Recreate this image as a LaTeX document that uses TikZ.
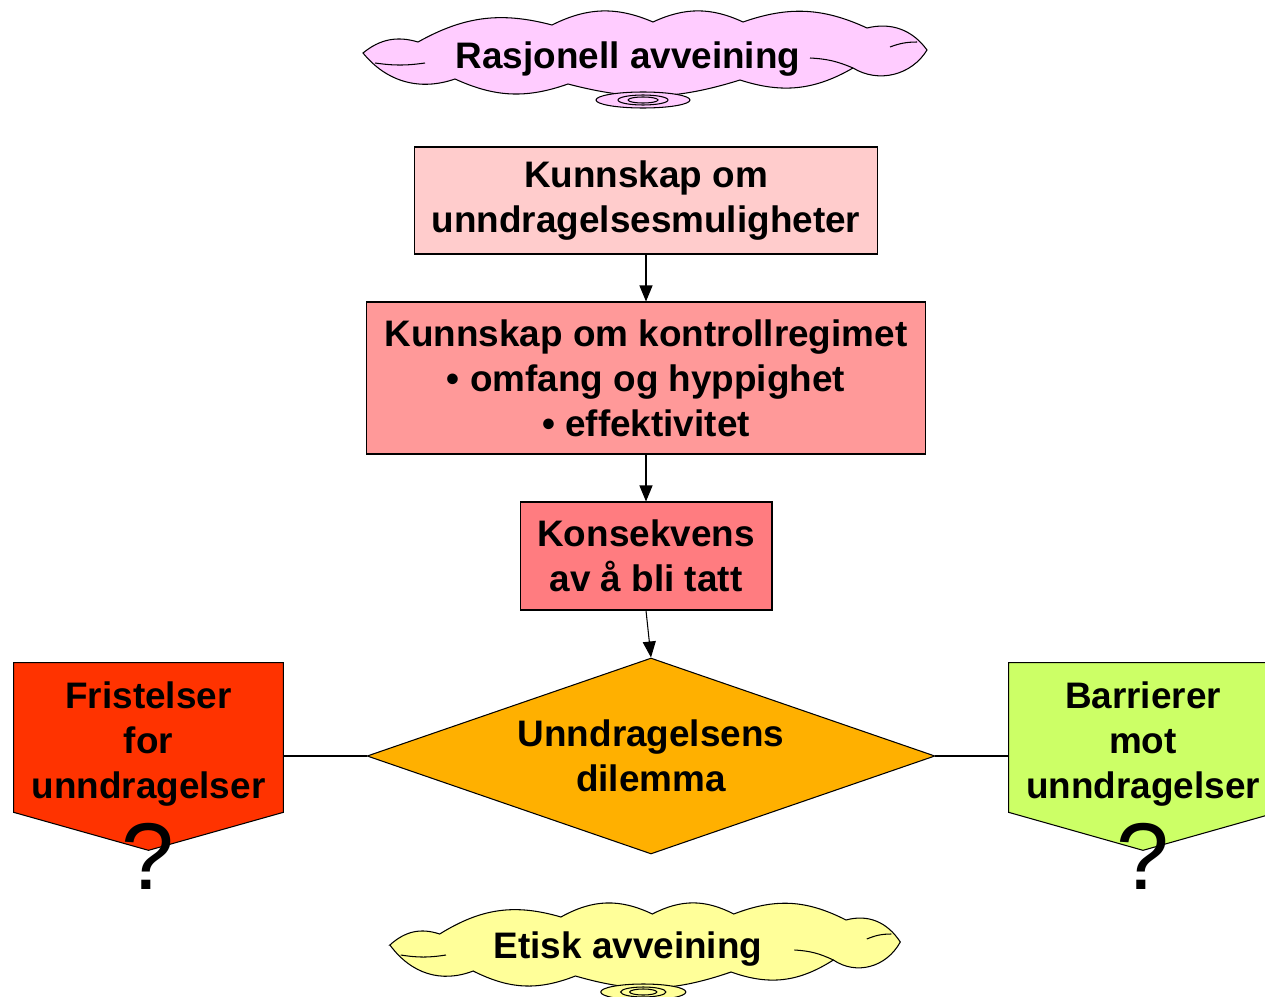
\documentclass[tikz,border=0pt]{standalone}
\usepackage{fontspec}
\setmainfont{Liberation Sans}
\usetikzlibrary{shapes.geometric,arrows.meta,backgrounds}

\definecolor{rasjpink}{HTML}{FFCCFF}
\definecolor{etiskyellow}{HTML}{FFFF99}
\definecolor{kunnlight}{HTML}{FFCCCC}
\definecolor{kontrollrose}{HTML}{FF9999}
\definecolor{konsred}{HTML}{FF7C80}
\definecolor{dilemmaorange}{HTML}{FFB000}
\definecolor{fristred}{HTML}{FF3300}
\definecolor{barrgreen}{HTML}{CCFF66}

\newcommand{\diagfont}{\fontsize{21}{25.6}\selectfont\bfseries}
% sky rundt (0,0), brukes i begge tankeskyene
\newcommand{\thoughtcloud}[1]{%
	\draw[thought, fill=#1] (-283,1) to[bend left=28] (-228,-10)
		to[bend left=22] (-94,-27) to[bend left=25] (7,-30) to[bend left=25] (97,-30)
		to[bend left=22] (221,-24) to[bend left=34] (281,-2) to[bend left=45] (207,16)
		to[bend left=24] (94,28) to[bend left=16] (-78,32) to[bend left=22] (-191,27)
		to[bend left=35] cycle;
	\draw[thought] (-271,11) to[bend right=8] (-221,11);
	\draw[thought] (164,6) to[bend left=10] (207,16);
	\draw[thought] (244,-5) to[bend left=10] (271,-10);
	\draw[thought, fill=#1] (-3,48) ellipse [x radius=47, y radius=8];
	\draw[thought] (-3,48) ellipse [x radius=25, y radius=5];
	\draw[thought] (-3,48) ellipse [x radius=15, y radius=3];
}

\tikzset{
	box/.style={draw, line width=0.6pt, inner sep=0pt, align=center, font=\diagfont},
	thought/.style={draw, line width=0.6pt},
	offpage/.style={inner sep=0pt},
	pentagon/.style={draw, line width=0.6pt},
	label text/.style={inner sep=0pt, align=center, font=\diagfont},
	flow/.style={line width=0.6pt, -{Triangle[length=0.32cm,width=0.26cm]}},
	link/.style={line width=0.6pt},
	query/.style={inner sep=0pt, font=\fontsize{54}{60}\selectfont}
}

\begin{document}
\begin{tikzpicture}[x=0.02cm, y=-0.02cm]
	\useasboundingbox (0,0) rectangle (1265,997);

	% tankeskyer
	\begin{scope}[shift={(646,52)}]
		\thoughtcloud{rasjpink}
	\end{scope}
	\node[label text] (rasjonell) at (628,59) {Rasjonell avveining};

	\begin{scope}[shift={(646,944)}, xscale=0.905]
		\thoughtcloud{etiskyellow}
	\end{scope}
	\node[label text] (etisk) at (628,949) {Etisk avveining};

	% flyt
	\node[box, fill=kunnlight, minimum width=9.28cm, minimum height=2.14cm] (muligheter) at (646,200.5)
		{Kunnskap om\\unndragelsesmuligheter};
	\node[box, fill=kontrollrose, minimum width=11.2cm, minimum height=3.04cm] (kontroll) at (646,378)
		{Kunnskap om kontrollregimet\\\textbullet\ omfang og hyppighet\\\textbullet\ effektivitet};
	\node[box, fill=konsred, minimum width=5.04cm, minimum height=2.16cm] (konsekvens) at (646,556)
		{Konsekvens\\av å bli tatt};
	\node[box, diamond, shape aspect=2.9, fill=dilemmaorange, minimum width=11.36cm, minimum height=3.92cm] (dilemma) at (651,756)
		{Unndragelsens\\dilemma};

	\node[offpage, minimum width=5.38cm, minimum height=2.98cm] (fristelser) at (148.5,737.5) {};
	\node[offpage, minimum width=5.36cm, minimum height=2.98cm] (barrierer) at (1143,737.5) {};
	\draw[pentagon, fill=fristred] (fristelser.north west) -- (fristelser.north east) -- (fristelser.south east)
		-- ([yshift=-0.76cm]fristelser.south) -- (fristelser.south west) -- cycle;
	\draw[pentagon, fill=barrgreen] (barrierer.north west) -- (barrierer.north east) -- (barrierer.south east)
		-- ([yshift=-0.76cm]barrierer.south) -- (barrierer.south west) -- cycle;
	\node[label text] (fristelsertxt) at ([yshift=-0.14cm]fristelser.center) {Fristelser\\for\\unndragelser};
	\node[label text] (barrierertxt) at ([yshift=-0.14cm]barrierer.center) {Barrierer\\mot\\unndragelser};
	\node[query] (fristq) at (148,856) {?};
	\node[query] (barrq) at (1143,856) {?};

	\draw[flow] (muligheter) -- (kontroll);
	\draw[flow] (kontroll) -- (konsekvens);
	\draw[flow] (konsekvens.south) -- (dilemma.north);
	\draw[link] (dilemma.west) -- (dilemma.west -| fristelser.east);
	\draw[link] (dilemma.east) -- (dilemma.east -| barrierer.west);
\end{tikzpicture}
\end{document}
